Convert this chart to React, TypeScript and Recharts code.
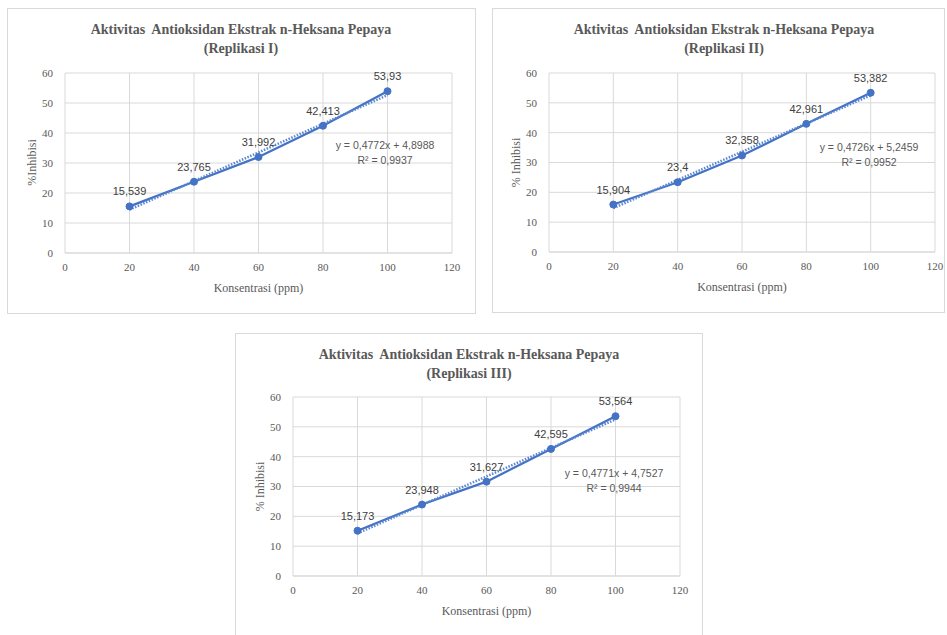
import React from "react";
import { LineChart, Line, XAxis, YAxis, CartesianGrid, LabelList } from "recharts";

// Konsentrasi (ppm)
const konsentrasi = [20, 40, 60, 80, 100];

// % Inhibisi per replikasi
const replikasi1 = [15.539, 23.765, 31.992, 42.413, 53.93];
const replikasi2 = [15.904, 23.4, 32.358, 42.961, 53.382];
const replikasi3 = [15.173, 23.948, 31.627, 42.595, 53.564];

// linear trendline (as printed on each chart)
const slopes = [0.4772, 0.4726, 0.4771];
const intercepts = [4.8988, 5.2459, 4.7527];
const rSquared = [0.9937, 0.9952, 0.9944];

const titles = ["(Replikasi I)", "(Replikasi II)", "(Replikasi III)"];
const yTitles = ["%Inhibisi", "% Inhibisi", "% Inhibisi"];
const xTicks = [0, 20, 40, 60, 80, 100, 120];
const yTicks = [0, 10, 20, 30, 40, 50, 60];

const BLUE = "#4472C4";
const GRID = "#d9d9d9";
const TEXT = "#595959";
const SERIF = "'Liberation Serif', 'Times New Roman', serif";
const SANS = "'Liberation Sans', Arial, sans-serif";

const comma = (v: number | string) => String(v).replace(".", ",");

type Box = { x: number; y: number; w: number; h: number };

const layouts: { panel: Box; plot: Box; titleX: number; eq: { x: number; y: number } }[] = [
  {
    panel: { x: 7, y: 8, w: 469, h: 306 },
    plot: { x: 65, y: 73, w: 387, h: 180 },
    titleX: 241,
    eq: { x: 385, y: 146 },
  },
  {
    panel: { x: 492, y: 8, w: 453, h: 305 },
    plot: { x: 549, y: 73, w: 386, h: 179 },
    titleX: 724,
    eq: { x: 869, y: 148 },
  },
  {
    panel: { x: 235, y: 333, w: 468, h: 305 },
    plot: { x: 293, y: 397, w: 387, h: 179 },
    titleX: 469,
    eq: { x: 614, y: 474 },
  },
];

const series = [replikasi1, replikasi2, replikasi3];

function Panel({ idx }: { idx: number }) {
  const { panel, plot, titleX, eq } = layouts[idx];
  const values = series[idx];
  const data = konsentrasi.map((x, i) => ({ x, y: values[i] }));
  const a = slopes[idx];
  const b = intercepts[idx];
  const trend = [konsentrasi[0], konsentrasi[konsentrasi.length - 1]].map((x) => ({
    x,
    t: a * x + b,
  }));

  const yAxisW = 40;
  const xAxisH = 30;
  const innerX = panel.x + 1;
  const innerY = panel.y + 1;
  const cw = panel.w - 2;
  const ch = panel.h - 2;
  const margin = {
    left: plot.x - innerX - yAxisW,
    top: plot.y - innerY,
    right: innerX + cw - (plot.x + plot.w),
    bottom: innerY + ch - (plot.y + plot.h) - xAxisH,
  };

  const abs = (x: number, y: number): React.CSSProperties => ({
    position: "absolute",
    left: x,
    top: y,
  });

  return (
    <>
      <div
        style={{
          position: "absolute",
          left: panel.x,
          top: panel.y,
          width: panel.w,
          height: panel.h,
          border: `1px solid ${GRID}`,
          boxSizing: "border-box",
          background: "#fff",
        }}
      >
        <LineChart width={cw} height={ch} margin={margin}>
          <CartesianGrid stroke={GRID} strokeWidth={1} />
          <XAxis
            type="number"
            dataKey="x"
            domain={[0, 120]}
            ticks={xTicks}
            height={xAxisH}
            axisLine={{ stroke: GRID }}
            tickLine={false}
            tickSize={0}
            tickMargin={10}
            tick={{ fill: TEXT, fontSize: 11, fontFamily: SERIF }}
            allowDataOverflow
          />
          <YAxis
            type="number"
            domain={[0, 60]}
            ticks={yTicks}
            width={yAxisW}
            axisLine={false}
            tickLine={false}
            tickSize={0}
            tickMargin={12}
            tick={{ fill: TEXT, fontSize: 11, fontFamily: SERIF }}
          />
          <Line
            data={data}
            dataKey="y"
            stroke={BLUE}
            strokeWidth={2.25}
            dot={{ r: 3.5, fill: BLUE, stroke: BLUE, strokeWidth: 1 }}
            activeDot={false}
            isAnimationActive={false}
          >
            <LabelList
              dataKey="y"
              position="top"
              offset={11}
              formatter={(v: any) => comma(v)}
              style={{ fill: "#404040", fontSize: 11, fontFamily: SANS }}
            />
          </Line>
          <Line
            data={trend}
            dataKey="t"
            stroke="#5b86d0"
            strokeWidth={2.5}
            strokeDasharray="1.5 1.5"
            dot={false}
            activeDot={false}
            isAnimationActive={false}
          />
        </LineChart>
      </div>

      <div
        style={{
          ...abs(titleX - 200, panel.y + 12),
          width: 400,
          textAlign: "center",
          fontFamily: SERIF,
          fontWeight: "bold",
          fontSize: 14,
          lineHeight: "19px",
          color: TEXT,
        }}
      >
        Aktivitas&nbsp; Antioksidan Ekstrak n-Heksana Pepaya
        <br />
        {titles[idx]}
      </div>

      <div
        style={{
          ...abs(plot.x + plot.w / 2 - 100, plot.y + plot.h + 28),
          width: 200,
          textAlign: "center",
          fontFamily: SERIF,
          fontSize: 12,
          color: TEXT,
        }}
      >
        Konsentrasi (ppm)
      </div>

      <div
        style={{
          ...abs(plot.x - 33 - 50, plot.y + plot.h / 2 - 8),
          width: 100,
          textAlign: "center",
          fontFamily: SERIF,
          fontSize: 12,
          color: TEXT,
          transform: "rotate(-90deg)",
        }}
      >
        {yTitles[idx]}
      </div>

      <div
        style={{
          ...abs(eq.x - 70, eq.y - 8),
          width: 140,
          textAlign: "center",
          fontFamily: SANS,
          fontSize: 10.5,
          lineHeight: "15px",
          color: TEXT,
        }}
      >
        y = {comma(a)}x + {comma(b)}
        <br />
        R² = {comma(rSquared[idx])}
      </div>
    </>
  );
}

export default function App() {
  return (
    <div
      style={{
        position: "absolute",
        left: 0,
        top: 0,
        width: 947,
        height: 635,
        overflow: "hidden",
        background: "#fff",
      }}
    >
      <Panel idx={0} />
      <Panel idx={1} />
      <Panel idx={2} />
    </div>
  );
}
